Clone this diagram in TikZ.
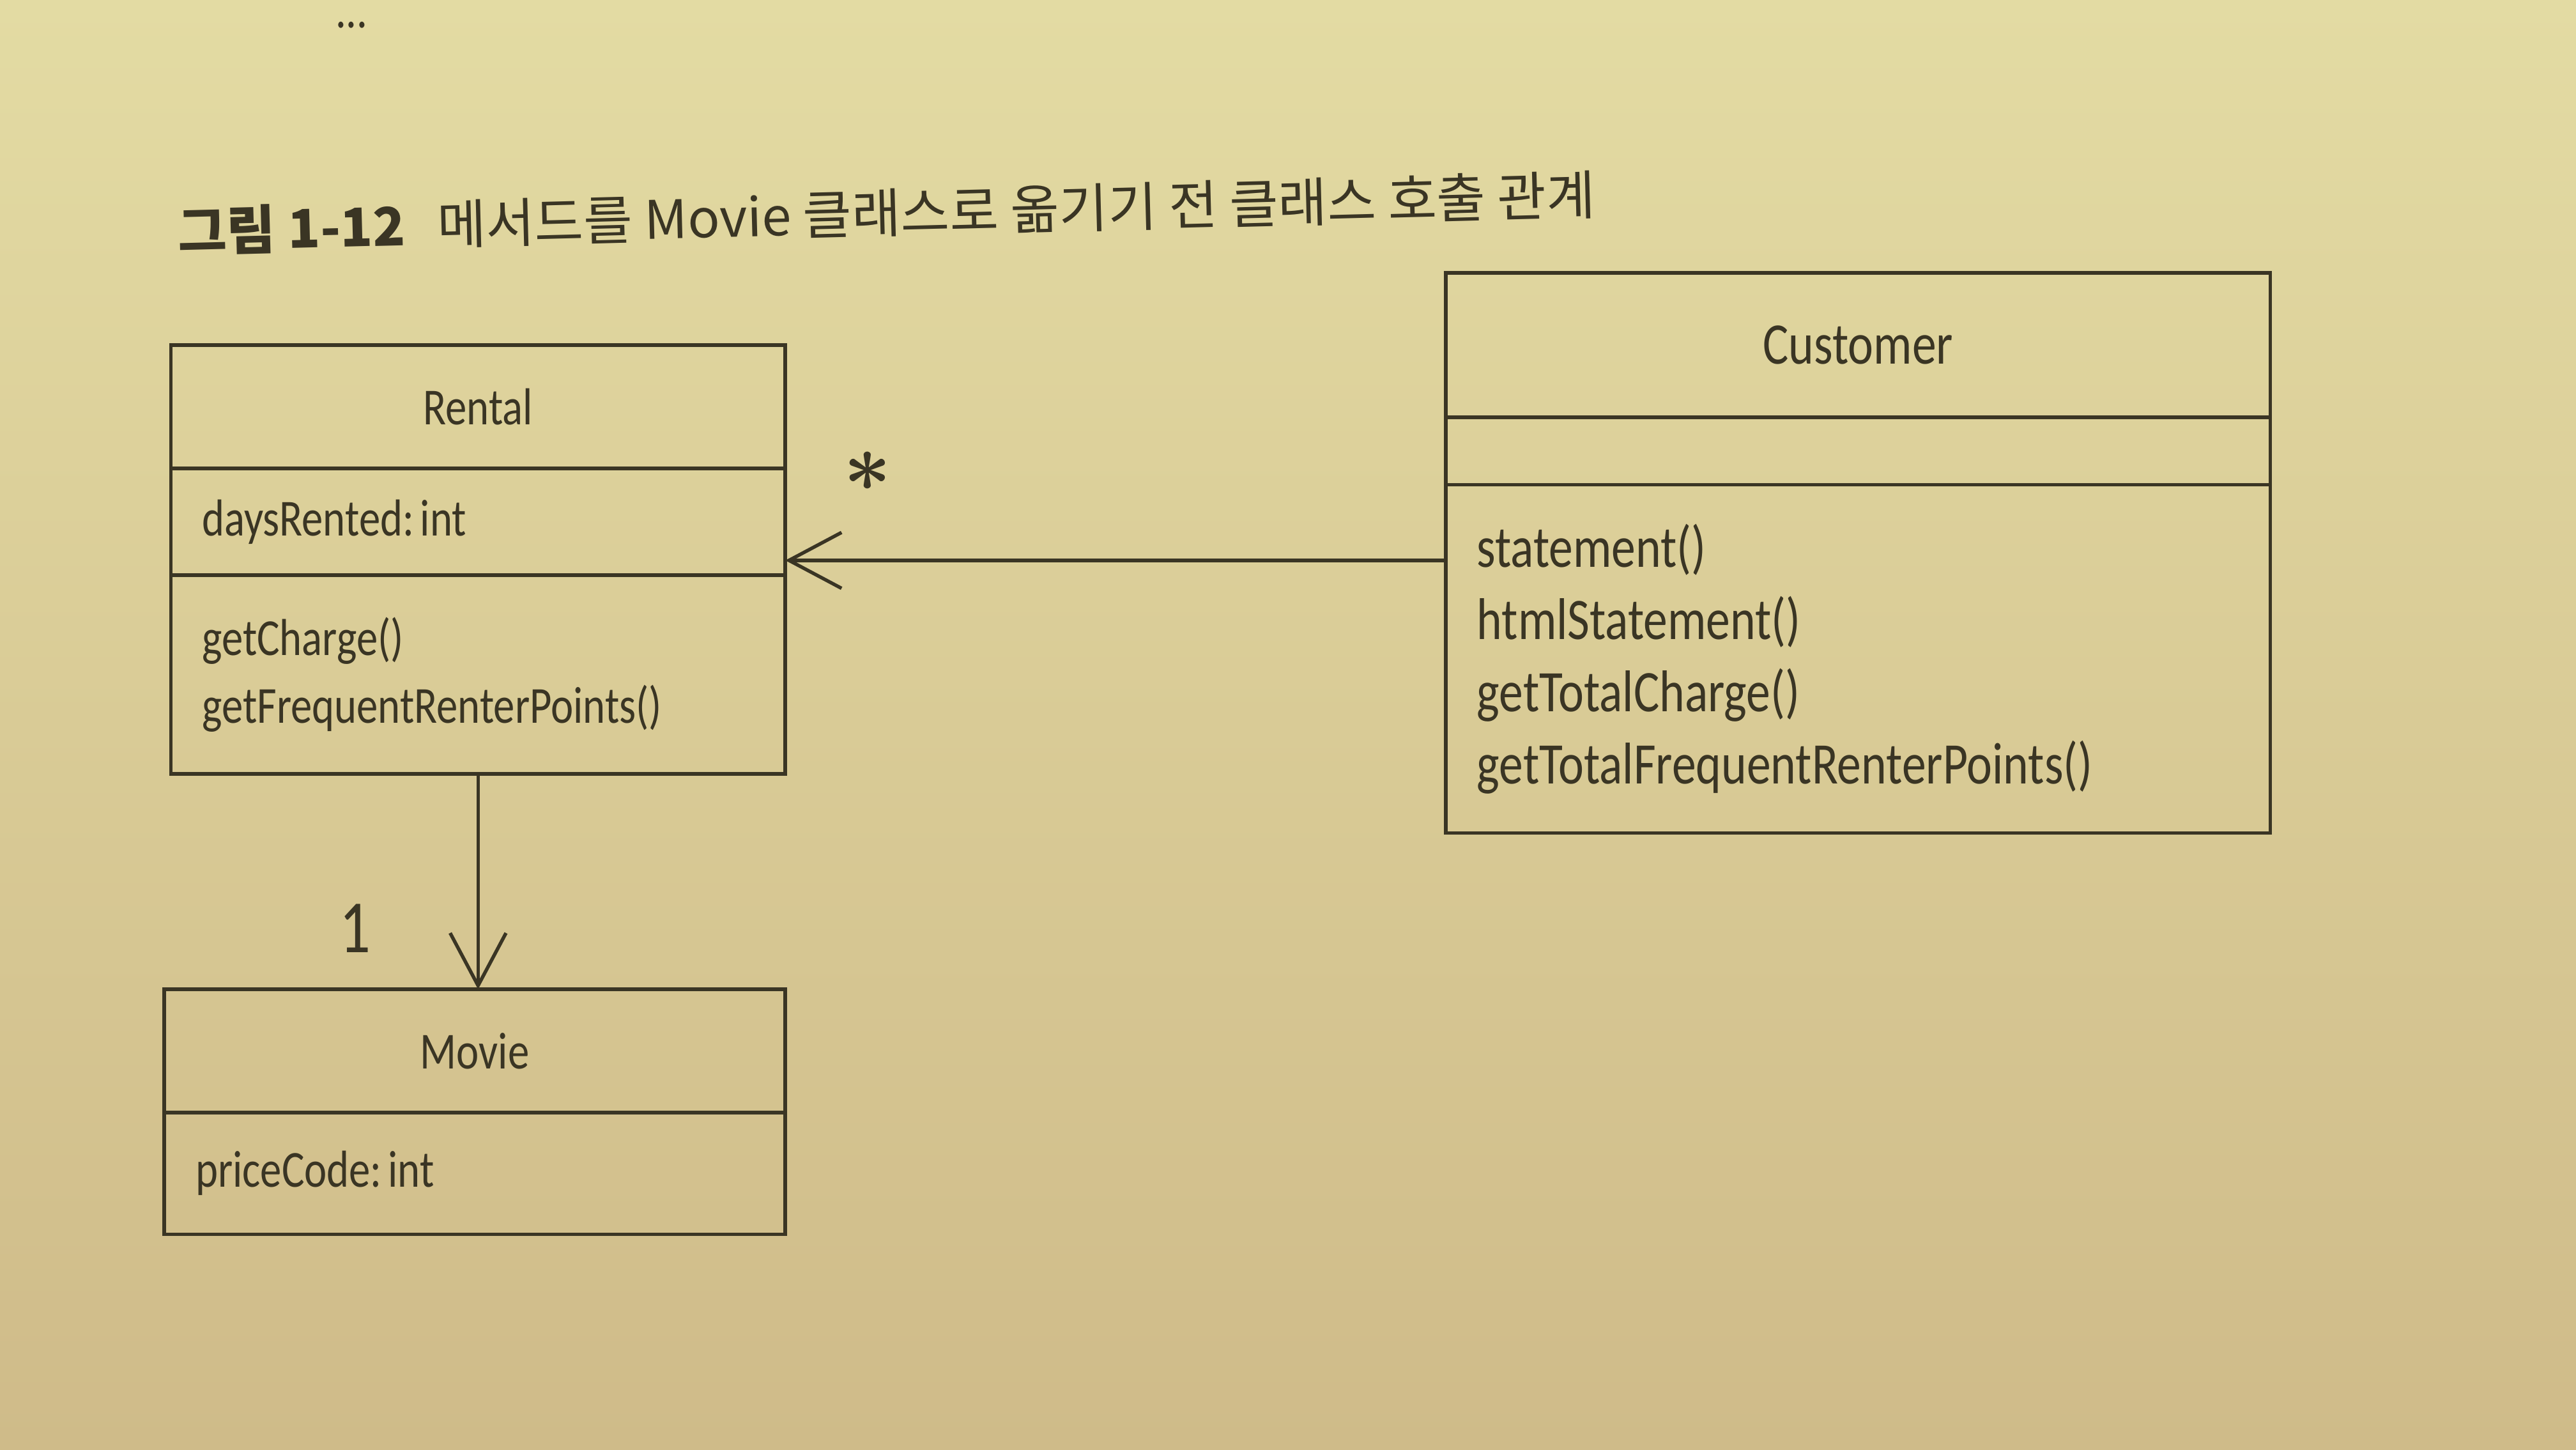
\documentclass[tikz,border=0pt]{standalone}
\usepackage{fontspec}
\setmainfont{Carlito}[FakeStretch=0.82]
\newfontfamily\krfont{Noto Sans CJK KR}
\usetikzlibrary{positioning,arrows.meta}
\definecolor{pagetop}{RGB}{227,219,163}
\definecolor{pagemid}{RGB}{222,208,148}
\definecolor{pagebot}{RGB}{207,187,137}
\definecolor{inkline}{RGB}{58,53,36}
\tikzset{
	umlbox/.style={draw=inkline, line width=0.6pt, text=inkline, inner xsep=0.19cm, inner ysep=0pt, outer sep=0pt},
	rhead/.style={umlbox, text width=3.36cm, align=center, minimum height=0.75cm, font=\fontsize{9}{11.7}\selectfont},
	rpart/.style={umlbox, text width=3.36cm, align=left, font=\fontsize{9}{11.7}\selectfont},
	mhead/.style={umlbox, text width=3.40cm, align=center, minimum height=0.75cm, font=\fontsize{9}{11.7}\selectfont},
	mpart/.style={umlbox, text width=3.40cm, align=left, font=\fontsize{9}{11.7}\selectfont},
	chead/.style={umlbox, text width=4.64cm, align=center, minimum height=0.88cm, font=\fontsize{10.2}{12.5}\selectfont},
	cpart/.style={umlbox, text width=4.64cm, align=left, font=\fontsize{10.2}{12.5}\selectfont},
	assoc/.style={draw=inkline, line width=0.6pt, -{Straight Barb[length=3.2mm, width=3.4mm]}}
}
\begin{document}
\begin{tikzpicture}
\shade[top color=pagetop, middle color=pagemid, bottom color=pagebot] (0,0) rectangle (15.68,-8.82);
\useasboundingbox (0,0) rectangle (15.68,-8.82);
\node[anchor=base west, rotate=1.5, text=inkline, inner sep=0pt, font=\krfont\fontsize{9.2}{9.2}\selectfont] (title) at (1.08,-1.53) {\textbf{그림 1-12}\hspace{0.6em}메서드를 Movie 클래스로 옮기기 전 클래스 호출 관계};
\node[anchor=base, text=inkline, inner sep=0pt, font=\fontsize{9}{9}\selectfont] (dots) at (2.14,-0.17) {...};

\node[rhead, anchor=north west] (rname) at (1.04,-2.10) {Rental};
\node[rpart, below=0pt of rname, minimum height=0.65cm] (rattr) {daysRented:\hspace{0.12em}int};
\node[rpart, below=0pt of rattr, minimum height=1.21cm] (rmeth) {getCharge()\\getFrequentRenterPoints()};

\node[mhead, anchor=north west] (mname) at (1.00,-6.02) {Movie};
\node[mpart, below=0pt of mname, minimum height=0.74cm] (mattr) {priceCode:\hspace{0.12em}int};

\node[chead, anchor=north west] (cname) at (8.80,-1.66) {Customer};
\node[cpart, below=0pt of cname, minimum height=0.41cm] (cattr) {};
\node[cpart, below=0pt of cattr, minimum height=2.12cm] (cmeth) {statement()\\htmlStatement()\\getTotalCharge()\\getTotalFrequentRenterPoints()};

\coordinate (rin) at ([yshift=-0.235cm]rattr.east);
\draw[assoc] (rin -| cmeth.west) -- (rin);
\draw[assoc] (rmeth.south) -- (rmeth.south |- mname.north);
\node[text=inkline, font=\fontsize{15}{15}\selectfont\boldmath] (many) at (5.28,-2.87) {$\ast$};
\node[text=inkline, font=\fontsize{13}{13}\selectfont] (one) at (2.16,-5.65) {1};
\end{tikzpicture}
\end{document}
